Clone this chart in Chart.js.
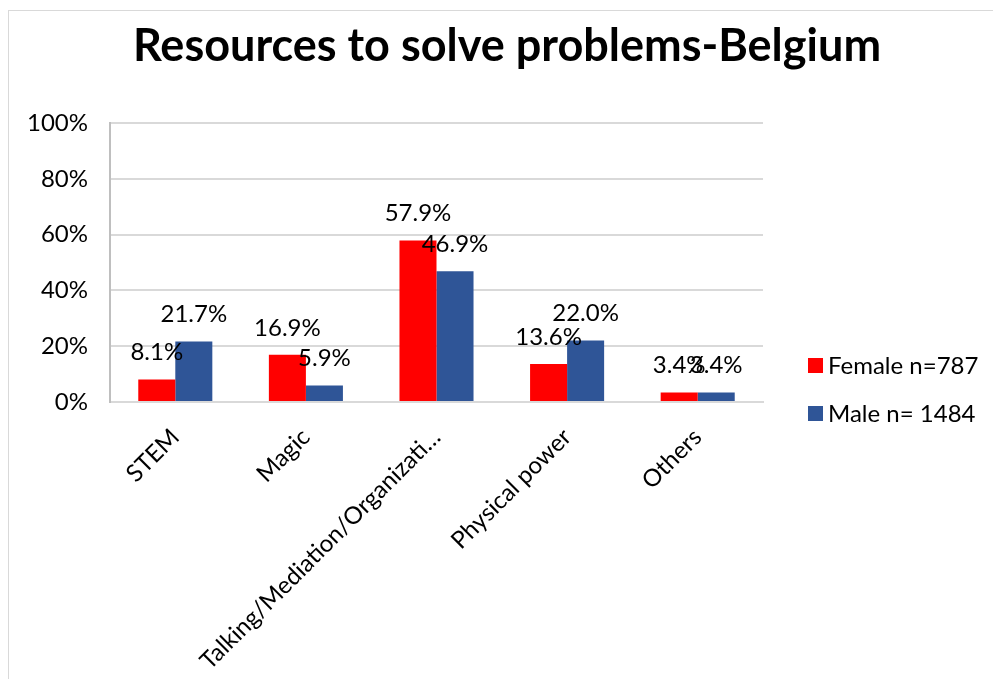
<!DOCTYPE html>
<html>
<head>
<meta charset="utf-8">
<script src="https://cdn.jsdelivr.net/npm/chart.js@4.4.1/dist/chart.umd.min.js"></script>
<style>
  body { margin: 0; background: #fff; }
  #frame { position: absolute; left: 8px; top: 10px; width: 1100px; height: 800px; border: 1px solid #d9d9d9; }
  #wrap { position: absolute; left: 0; top: 0; width: 993px; height: 679px; }
</style>
</head>
<body>
<div id="frame"></div>
<div id="wrap"><canvas id="myChart" width="993" height="679"></canvas></div>
<script>
var categories = ["STEM", "Magic", "Talking/Mediation/Organizati\u2026", "Physical power", "Others"];
var femaleValues = [8.1, 16.9, 57.9, 13.6, 3.4];
var maleValues = [21.7, 5.9, 46.9, 22.0, 3.4];
var seriesNames = ["Female n=787", "Male n= 1484"];
var seriesColors = ["#ff0000", "#2f5597"];
var yTickValues = [0, 20, 40, 60, 80, 100];
var chartTitle = 'Resources to solve problems-Belgium';

Chart.defaults.font.family = "Lato, 'Open Sans', sans-serif";

// title centred over the whole canvas (built-in one only centres over the box left of the legend space)
var pageTitle = {
  id: 'pageTitle',
  afterDraw: function (chart) {
    var ctx = chart.ctx;
    ctx.save();
    ctx.font = 'bold 45px Lato';
    ctx.fillStyle = '#000';
    ctx.textAlign = 'center';
    ctx.textBaseline = 'middle';
    ctx.fillText(chartTitle, 507, 46);
    ctx.restore();
  }
};

// value labels above each bar
var barLabels = {
  id: 'barLabels',
  afterDatasetsDraw: function (chart) {
    var ctx = chart.ctx;
    ctx.save();
    ctx.font = '24px Lato';
    ctx.fillStyle = '#000';
    ctx.textAlign = 'center';
    ctx.textBaseline = 'middle';
    chart.data.datasets.forEach(function (ds, i) {
      chart.getDatasetMeta(i).data.forEach(function (bar, j) {
        ctx.fillText(ds.data[j].toFixed(1) + '%', bar.x, bar.y - 27);
      });
    });
    ctx.restore();
  }
};

// legend on the right side, near the bottom of the plot
var sideLegend = {
  id: 'sideLegend',
  afterDraw: function (chart) {
    var ctx = chart.ctx;
    var area = chart.chartArea;
    ctx.save();
    ctx.font = '24px Lato';
    ctx.textAlign = 'left';
    ctx.textBaseline = 'middle';
    chart.data.datasets.forEach(function (ds, i) {
      var y = area.bottom - 37 + i * 48;
      ctx.fillStyle = ds.backgroundColor;
      ctx.fillRect(area.right + 45, y - 7, 15, 15);
      ctx.fillStyle = '#000';
      ctx.fillText(ds.label, area.right + 65, y + 1);
    });
    ctx.restore();
  }
};

var ctx = document.getElementById('myChart').getContext('2d');
var myChart = new Chart(ctx, {
  type: 'bar',
  data: {
    labels: categories,
    datasets: [{
      label: seriesNames[0],
      data: femaleValues,
      backgroundColor: seriesColors[0],
      categoryPercentage: 0.567,
      barPercentage: 1.0
    }, {
      label: seriesNames[1],
      data: maleValues,
      backgroundColor: seriesColors[1],
      categoryPercentage: 0.567,
      barPercentage: 1.0
    }]
  },
  options: {
    responsive: false,
    animation: false,
    layout: { padding: { left: 0, right: 230, top: 123, bottom: 0 } },
    plugins: {
      legend: { display: false },
      tooltip: { enabled: false },
      title: { display: false }
    },
    scales: {
      x: {
        grid: { display: false },
        border: { display: true, color: '#d9d9d9', width: 2 },
        ticks: {
          color: '#000',
          font: { size: 24 },
          maxRotation: 45,
          minRotation: 45,
          padding: 13,
          autoSkip: false
        },
        afterFit: function (scale) { scale.height = 277; }
      },
      y: {
        min: 0,
        max: 100,
        afterBuildTicks: function (scale) {
          scale.ticks = yTickValues.map(function (v) { return { value: v }; });
        },
        grid: { color: '#d9d9d9', lineWidth: 2, drawTicks: false },
        border: { display: true, color: '#bfbfbf', width: 2 },
        ticks: {
          color: '#000',
          font: { size: 24 },
          padding: 22,
          callback: function (v) { return v + '%'; }
        },
        afterFit: function (scale) { scale.width = 110; }
      }
    }
  },
  plugins: [pageTitle, barLabels, sideLegend]
});
</script>
</body>
</html>
